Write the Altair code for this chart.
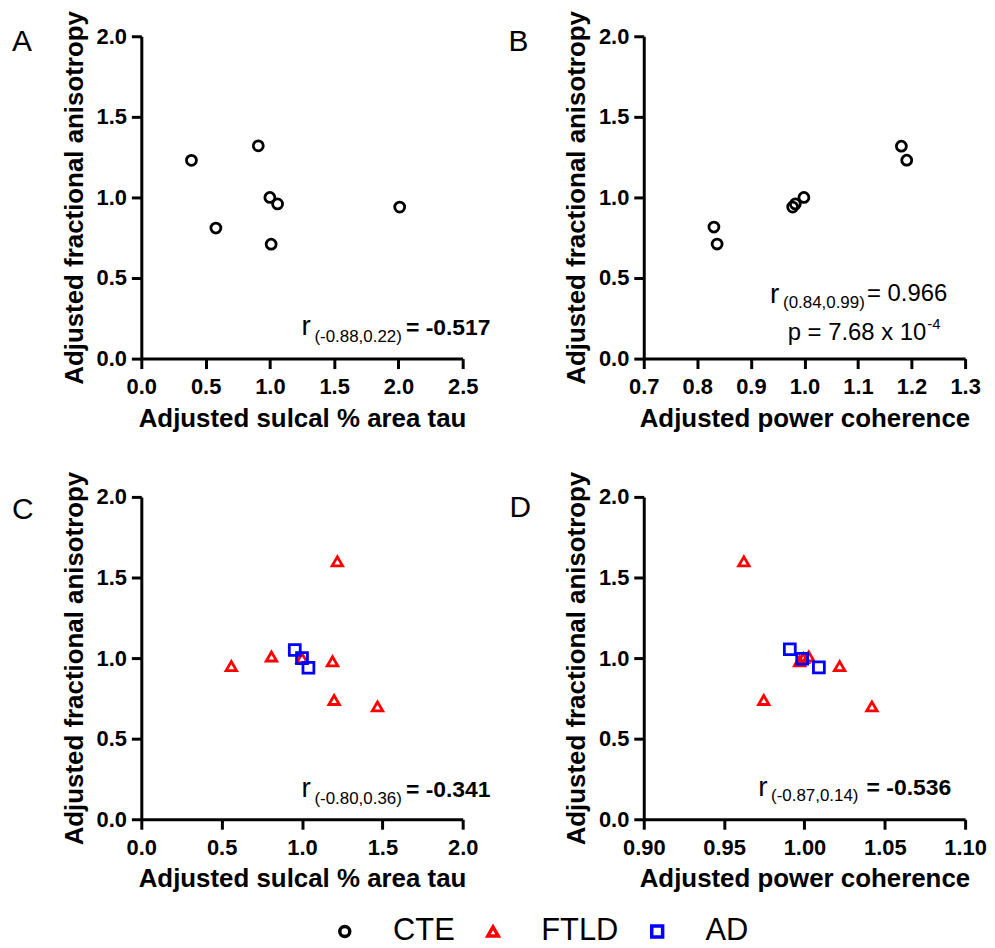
import altair as alt
import pandas as pd

FONT = "Liberation Sans"

groups = ["CTE", "FTLD", "AD"]
group_colors = ["#000000", "#FF0000", "#0000FF"]
group_shapes = ["circle", "triangle-up", "square"]
group_sizes = [100, 120, 105]

# Panel A: CTE — adjusted sulcal % area tau vs adjusted FA
a_x = [0.39, 0.58, 0.91, 1.00, 1.06, 1.01, 2.01]
a_y = [1.23, 0.81, 1.32, 1.00, 0.96, 0.71, 0.94]
# Panel B: CTE — adjusted power coherence vs adjusted FA
b_x = [0.831, 0.837, 1.181, 1.191, 0.999, 0.983, 0.978]
b_y = [0.816, 0.711, 1.318, 1.231, 1.000, 0.960, 0.940]
# Panel C: FTLD / AD — sulcal % area tau
c_ftld_x = [0.56, 0.81, 1.00, 1.19, 1.22, 1.20, 1.47]
c_ftld_y = [0.95, 1.01, 1.00, 0.98, 1.60, 0.74, 0.70]
c_ad_x = [0.955, 1.00, 1.04]
c_ad_y = [1.05, 1.00, 0.94]
# Panel D: FTLD / AD — power coherence
d_ftld_x = [0.9623, 0.9747, 1.0219, 1.0420, 1.0027, 0.9993, 0.9970]
d_ftld_y = [1.60, 0.74, 0.95, 0.70, 1.01, 1.00, 0.98]
d_ad_x = [0.9909, 0.9986, 1.0090]
d_ad_y = [1.055, 0.996, 0.942]

y_ticks = [0.0, 0.5, 1.0, 1.5, 2.0]
a_ticks = [0.0, 0.5, 1.0, 1.5, 2.0, 2.5]
b_ticks = [0.7, 0.8, 0.9, 1.0, 1.1, 1.2, 1.3]
c_ticks = [0.0, 0.5, 1.0, 1.5, 2.0]
d_ticks = [0.90, 0.95, 1.00, 1.05, 1.10]

Y_TITLE = "Adjusted fractional anisotropy"
X_TAU = "Adjusted sulcal % area tau"
X_COH = "Adjusted power coherence"

W, H = 323, 324


def frame(pairs):
    rows = []
    for xs, ys, g in pairs:
        for xv, yv in zip(xs, ys):
            rows.append({"x": xv, "y": yv, "group": g})
    return pd.DataFrame(rows)


def label(text, x, y, size, weight="normal", align="left"):
    return alt.Chart(alt.Data(values=[{"k": 1}])).mark_text(
        text=text, align=align, baseline="alphabetic", fontSize=size,
        fontWeight=weight, font=FONT, color="black",
    ).encode(x=alt.value(x), y=alt.value(y))


def panel(df, xdom, xticks, xfmt, xtitle, texts):
    pts = alt.Chart(df).mark_point(filled=False, strokeWidth=2.8, opacity=1).encode(
        x=alt.X("x:Q", scale=alt.Scale(domain=xdom, nice=False, zero=False),
                axis=alt.Axis(values=xticks, format=xfmt, title=xtitle)),
        y=alt.Y("y:Q", scale=alt.Scale(domain=[0, 2], nice=False),
                axis=alt.Axis(values=y_ticks, format=".1f", title=Y_TITLE)),
        color=alt.Color("group:N", scale=alt.Scale(domain=groups, range=group_colors),
                        legend=alt.Legend(
                            title=None, orient="none", direction="horizontal",
                            legendX=189, legendY=884,
                            labelFontSize=31, labelFont=FONT, labelColor="black",
                            symbolSize=300, symbolStrokeWidth=3.5,
                            labelOffset=33, columnPadding=23,
                        )),
        shape=alt.Shape("group:N", scale=alt.Scale(domain=groups, range=group_shapes)),
        size=alt.Size("group:N", scale=alt.Scale(domain=groups, range=group_sizes), legend=None),
    )
    return alt.layer(pts, *texts).properties(width=W, height=H)


pA = panel(
    frame([(a_x, a_y, "CTE")]), [0, 2.5], a_ticks, ".1f", X_TAU,
    [label("A", -130, 15, 30),
     label("r", 161, 300, 28),
     label("(-0.88,0.22)", 174, 307, 17),
     label("= -0.517", 351, 300, 23, "bold", "right")],
)
pB = panel(
    frame([(b_x, b_y, "CTE")]), [0.7, 1.3], b_ticks, ".1f", X_COH,
    [label("B", -136, 15, 30),
     label("r", 127, 268, 28),
     label("(0.84,0.99)", 140, 273, 17),
     label("= 0.966", 305, 266, 24, "normal", "right"),
     label("p = 7.68 x 10", 284, 305, 24, "normal", "right"),
     label("-4", 285, 294, 15)],
)
pC = panel(
    frame([(c_ftld_x, c_ftld_y, "FTLD"), (c_ad_x, c_ad_y, "AD")]), [0, 2.0], c_ticks, ".1f", X_TAU,
    [label("C", -130, 22, 30),
     label("r", 161, 302, 28),
     label("(-0.80,0.36)", 174, 309, 17),
     label("= -0.341", 351, 302, 23, "bold", "right")],
)
pD = panel(
    frame([(d_ftld_x, d_ftld_y, "FTLD"), (d_ad_x, d_ad_y, "AD")]), [0.9, 1.1], d_ticks, ".2f", X_COH,
    [label("D", -135, 20, 30),
     label("r", 115, 301, 28),
     label("(-0.87,0.14)", 128, 306, 17),
     label("= -0.536", 309, 300, 23, "bold", "right")],
)

chart = alt.ConcatChart(
    concat=[pA, pB, pC, pD], columns=2,
    spacing=alt.RowColnumber(row=139, column=182), bounds="flush",
).properties(
    padding={"left": 4, "top": 0, "right": 0, "bottom": 0}
).configure_view(stroke=None).configure_axis(
    grid=False, domainColor="black", domainWidth=3, tickColor="black", tickWidth=3,
    tickSize=10, labelFont=FONT, labelFontSize=22, labelFontWeight="bold",
    labelColor="black", labelPadding=5, labelFlush=False, labelOverlap=False,
    titleFont=FONT, titleFontSize=26, titleFontWeight="bold", titleColor="black",
    titlePadding=9,
).configure_axisX(labelPadding=8, titlePadding=8)

chart.save("out.html", embed_options={"renderer": "svg", "actions": False})
